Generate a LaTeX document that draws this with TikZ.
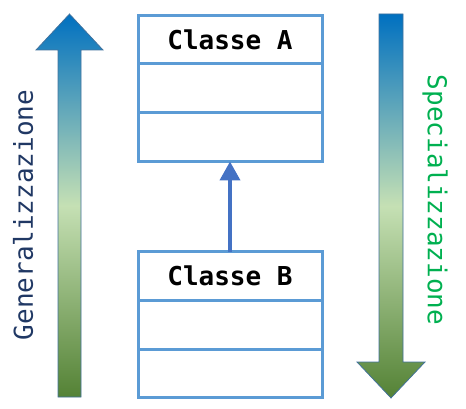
\documentclass[tikz,border=0pt]{standalone}
\usepackage{fontspec}
\newfontfamily\codefont{DejaVu Sans Mono}
\usepackage{tikz}
\usetikzlibrary{positioning,arrows.meta}
\definecolor{boxblue}{HTML}{5B9BD5}
\definecolor{linkblue}{HTML}{4472C4}
\definecolor{topblue}{HTML}{0070C0}
\definecolor{midgreen}{HTML}{C5E0B4}
\definecolor{lowgreen}{HTML}{548235}
\definecolor{rimblue}{HTML}{41719C}
\definecolor{navytext}{HTML}{203864}
\definecolor{spectext}{HTML}{00B050}

\begin{document}
\begin{tikzpicture}[x=1pt,y=-1pt,
  part/.style={draw=boxblue,line width=3pt,minimum width=184pt,inner sep=0pt,outer sep=0pt,font=\codefont\bfseries\fontsize{26}{26}\selectfont},
  bigarrow/.style={draw=rimblue,line width=0.75pt,top color=topblue,bottom color=lowgreen,middle color=midgreen},
  sidelabel/.style={font=\codefont\fontsize{26}{26}\selectfont}]
\useasboundingbox (0,0) rectangle (466,409);
% frecce laterali
\draw[bigarrow] (58,397) -- (58,50) -- (36,50) -- (69.5,14) -- (103,50) -- (81,50) -- (81,397) -- cycle;
\draw[bigarrow] (379,14) -- (403,14) -- (403,362) -- (425,362) -- (391,398) -- (357,362) -- (379,362) -- cycle;
\node[sidelabel,rotate=90,text=navytext] (gen) at (23,215) {Generalizzazione};
\node[sidelabel,rotate=-90,text=spectext] (spec) at (435,200) {Specializzazione};
% classe A
\node[part,minimum height=48.5pt] (a1) at (230,39.75) {Classe A};
\node[part,minimum height=49pt,below=0pt of a1] (a2) {};
\node[part,minimum height=48.5pt,below=0pt of a2] (a3) {};
% classe B
\node[part,minimum height=48.5pt] (b1) at (230,275.75) {Classe B};
\node[part,minimum height=49pt,below=0pt of b1] (b2) {};
\node[part,minimum height=48.5pt,below=0pt of b2] (b3) {};
\draw[linkblue,line width=4pt,-{Triangle[length=19pt,width=20pt]}] (b1) -- (a3);
\end{tikzpicture}
\end{document}
